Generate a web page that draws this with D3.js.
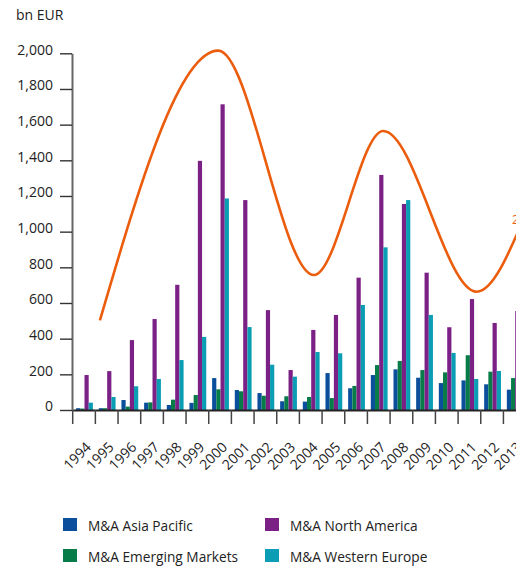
<!DOCTYPE html>
<html>
<head>
<meta charset="utf-8">
<script src="https://cdn.jsdelivr.net/npm/d3@7/dist/d3.min.js"></script>
<style>
  html, body { margin: 0; padding: 0; background: #fff; }
  svg { display: block; font-family: "Open Sans", "Noto Sans", sans-serif; }
</style>
</head>
<body>
<svg id="chart" width="516" height="566"></svg>
<script>
// M&A volumes by region, bn EUR
const years = [1994, 1995, 1996, 1997, 1998, 1999, 2000, 2001, 2002, 2003,
               2004, 2005, 2006, 2007, 2008, 2009, 2010, 2011, 2012, 2013];
const asiaPacific     = [10, 10, 56, 41, 28, 40, 179, 112, 95, 49, 47, 207, 122, 196, 228, 181, 151, 166, 144, 114];
const emergingMarkets = [8, 10, 19, 43, 58, 84, 116, 105, 80, 77, 73, 67, 135, 252, 275, 224, 211, 307, 215, 179];
const northAmerica    = [196, 218, 392, 510, 702, 1397, 1714, 1177, 560, 224, 449, 533, 742, 1318, 1155, 770, 464, 622, 488, 555];
const westernEurope   = [41, 73, 133, 174, 280, 410, 1186, 465, 254, 187, 325, 318, 589, 912, 1177, 533, 320, 174, 219, 250];

const seriesNames = ["M&A Asia Pacific", "M&A Emerging Markets", "M&A North America", "M&A Western Europe"];
const seriesColors = ["#0b4f9c", "#087c48", "#7b2085", "#0a9db4"];
const seriesValues = [asiaPacific, emergingMarkets, northAmerica, westernEurope];

// Merger-wave trend curve: turning points on the year axis (bn EUR)
const waveYears  = [1995.20, 2000.42, 2004.64, 2007.70, 2011.82, 2013.91];
const waveValues = [502, 2015, 757, 1564, 663, 1077];

const yTicks = [0, 200, 400, 600, 800, 1000, 1200, 1400, 1600, 1800, 2000];

const svg = d3.select("#chart");
const x0 = 72.7, step = 22.67;
const yBottom = 410, yTop = 53.3;

const x = d3.scaleBand().domain(years).range([x0, x0 + step * years.length]).padding(0);
const xs = d3.scaleBand().domain(d3.range(seriesNames.length)).range([3.4, 20.2]).padding(0);
const y = d3.scaleLinear().domain([0, 2000]).range([yBottom, yTop]);
const xw = d3.scaleLinear().domain([1994, 2014]).range([x0, x0 + step * 20]);

// unit label
svg.append("text").attr("x", 16).attr("y", 20)
  .attr("font-size", 14).attr("fill", "#222").text("bn EUR");

// bars
const groups = svg.append("g").selectAll("g").data(years).join("g")
  .attr("transform", d => `translate(${x(d)},0)`);
groups.selectAll("rect")
  .data((d, i) => seriesValues.map((s, k) => ({ k, v: s[i] })))
  .join("rect")
  .attr("x", d => xs(d.k))
  .attr("width", xs.bandwidth())
  .attr("y", d => y(d.v))
  .attr("height", d => yBottom - y(d.v))
  .attr("fill", d => seriesColors[d.k]);

// y axis
const yAxis = svg.append("g").attr("transform", "translate(72,0)")
  .call(d3.axisLeft(y).tickValues(yTicks).tickFormat(d3.format(",")).tickSize(12).tickSizeOuter(0));
yAxis.select(".domain").attr("stroke", "#666").attr("stroke-width", 2);
yAxis.selectAll(".tick line").attr("stroke", "#333").attr("stroke-width", 1.4);
yAxis.selectAll(".tick text")
  .attr("x", -19).attr("dy", "0.05em")
  .attr("font-size", 14).attr("fill", "#222")
  .attr("font-family", "'Open Sans', sans-serif");

// x axis
const xAxis = svg.append("g").attr("transform", `translate(0,${yBottom})`)
  .call(d3.axisBottom(x).tickSize(14).tickSizeOuter(0));
xAxis.select(".domain").attr("stroke", "#222").attr("stroke-width", 1.8);
xAxis.selectAll(".tick line")
  .attr("x1", -x.bandwidth() / 2).attr("x2", -x.bandwidth() / 2)
  .attr("stroke", "#444").attr("stroke-width", 1.5);
xAxis.selectAll(".tick text")
  .attr("text-anchor", "end")
  .attr("font-size", 14).attr("fill", "#222")
  .attr("font-family", "'Open Sans', sans-serif")
  .attr("dy", null).attr("y", null)
  .attr("transform", "translate(8,38) rotate(-45)");

// wave curve
const wave = waveYears.map((yr, i) => [xw(yr), y(waveValues[i])]);
svg.append("path")
  .attr("d", d3.line().curve(d3.curveMonotoneX)(wave))
  .attr("fill", "none").attr("stroke", "#eb5c0d").attr("stroke-width", 2.6)
  .attr("stroke-linecap", "butt");

svg.append("text").attr("x", 512).attr("y", 224)
  .attr("font-size", 12).attr("fill", "#eb5c0d").text("2014");

// legend
const legendPos = [[63, 518], [63, 549], [265, 518], [265, 549]];
const legend = svg.append("g").selectAll("g").data(seriesNames).join("g")
  .attr("transform", (d, i) => `translate(${legendPos[i][0]},${legendPos[i][1]})`);
legend.append("rect").attr("width", 14).attr("height", 13)
  .attr("fill", (d, i) => seriesColors[i]);
legend.append("text").attr("x", 25).attr("y", 12.5)
  .attr("font-size", 13.7).attr("fill", "#222").text(d => d);
</script>
</body>
</html>
